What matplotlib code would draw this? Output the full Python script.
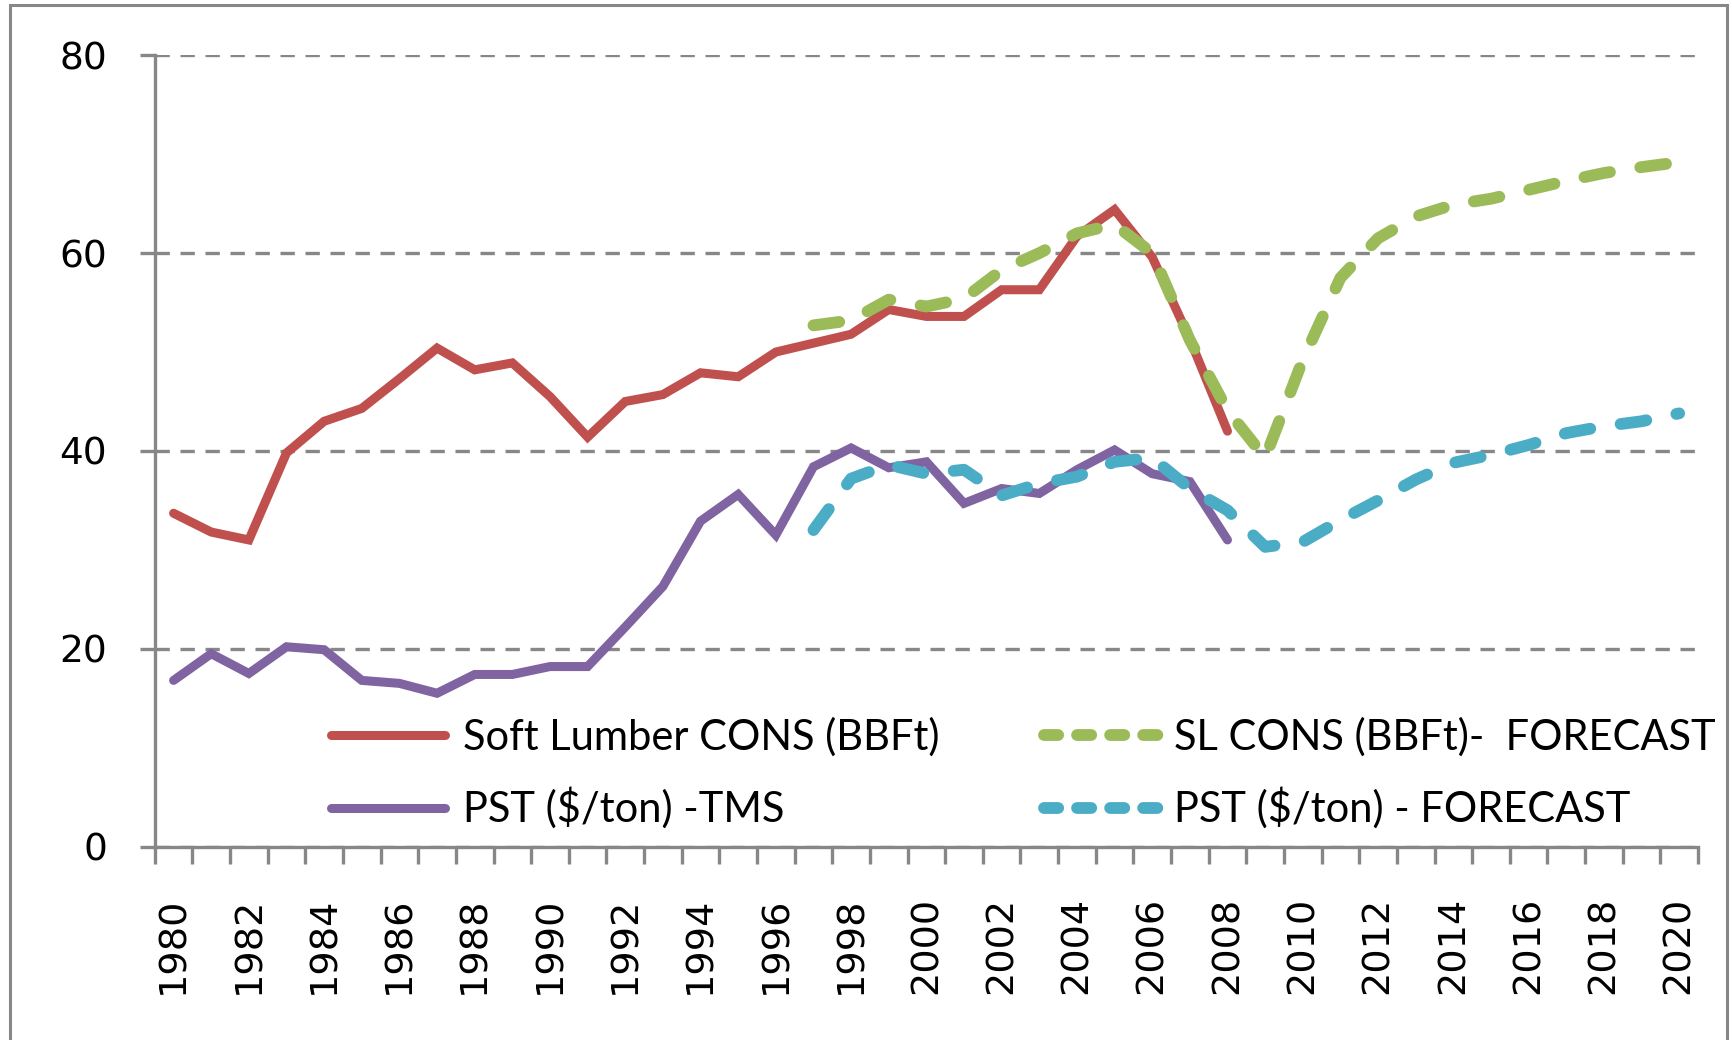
# -*- coding: utf-8 -*-

import numpy as np
import matplotlib
matplotlib.use('Agg')
import matplotlib.pyplot as plt
from matplotlib.lines import Line2D
from matplotlib.patches import Rectangle

# Datos
anios_hist = list(range(1980, 2009))
anios_prev = list(range(1997, 2021))

soft_lumber = [33.7, 31.8, 31.0, 39.8, 43.0, 44.3, 47.3, 50.4, 48.2, 48.9,
               45.5, 41.4, 45.0, 45.7, 47.9, 47.5, 50.0, 50.9, 51.8, 54.3,
               53.6, 53.6, 56.3, 56.3, 61.7, 64.4, 59.6, 51.3, 42.0]
pst_tms = [16.8, 19.5, 17.5, 20.2, 19.9, 16.8, 16.5, 15.5, 17.4, 17.4,
           18.2, 18.2, 22.2, 26.3, 32.9, 35.6, 31.5, 38.4, 40.3, 38.3,
           38.9, 34.7, 36.2, 35.7, 38.1, 40.1, 37.7, 36.9, 31.0]
sl_prevision = [52.7, 53.2, 55.3, 54.6, 55.4, 58.3, 60.0, 62.0, 62.9, 60.0,
                51.2, 44.1, 39.3, 49.2, 57.5, 61.5, 63.7, 64.9, 65.5, 66.4,
                67.3, 68.1, 68.7, 69.2]
pst_prevision = [32.0, 37.2, 38.6, 37.7, 38.1, 35.5, 36.7, 37.4, 38.9, 39.3,
                 36.2, 34.0, 30.3, 30.8, 33.0, 35.0, 37.1, 38.8, 39.6, 40.6,
                 41.8, 42.5, 43.0, 43.8]

etiquetas = ["Soft Lumber CONS (BBFt)", "PST ($/ton) -TMS",
             "SL CONS (BBFt)-  FORECAST", "PST ($/ton) - FORECAST"]
colores = ['#C0504D', '#8064A2', '#9BBB59', '#4BACC6']
gris = '#878787'

anio0 = 1980
anios_todos = list(range(1980, 2021))

ancho_continua = 6.5
ancho_disc = 8.5
patron = (2.2, 2.6)

fig = plt.figure(figsize=(17.33, 10.40), dpi=100)
ax = fig.add_axes([0.0893, 0.186, 0.8905, 0.7608])

xh = np.array(anios_hist) - anio0
xp = np.array(anios_prev) - anio0

# series continuas
ax.plot(xh, soft_lumber, color=colores[0], lw=ancho_continua,
        solid_joinstyle='miter', solid_capstyle='round', zorder=3)
ax.plot(xh, pst_tms, color=colores[1], lw=ancho_continua,
        solid_joinstyle='miter', solid_capstyle='round', zorder=3)
# series de prevision (discontinuas)
ax.plot(xp, sl_prevision, color=colores[2], lw=ancho_disc, dashes=patron,
        dash_capstyle='round', zorder=4)
ax.plot(xp, pst_prevision, color=colores[3], lw=ancho_disc, dashes=patron,
        dash_capstyle='round', zorder=4)

# ejes
ax.set_xlim(-0.5, len(anios_todos) - 0.5)
ax.set_ylim(0, 80)
ax.set_yticks([0, 20, 40, 60, 80])
ax.yaxis.grid(True, color=gris, lw=2.4, dashes=(4.3, 3.2))
ax.set_axisbelow(True)

for s in ['top', 'right']:
    ax.spines[s].set_visible(False)
for s in ['left', 'bottom']:
    ax.spines[s].set_color(gris)
    ax.spines[s].set_linewidth(2.4)

ax.tick_params(axis='y', direction='out', length=10.8, width=2.4, color=gris,
               pad=23.5, labelsize=27)

# marcas entre categorias y etiquetas en los anios pares
ax.set_xticks(np.arange(-0.5, len(anios_todos), 1))
ax.set_xticklabels([])
ax.tick_params(axis='x', which='major', direction='out', length=12,
               width=2.4, color=gris)
pares = [a for a in anios_todos if a % 2 == 0]
ax.set_xticks(np.array(pares) - anio0, minor=True)
ax.set_xticklabels([str(a) for a in pares], minor=True, rotation=90,
                   fontsize=27.5)
ax.tick_params(axis='x', which='minor', length=0, pad=36)

# leyenda en dos columnas
def muestra(i, discontinua):
    if discontinua:
        return Line2D([], [], color=colores[i], lw=ancho_disc,
                      dashes=(1.2, 1.6), dash_capstyle='round')
    return Line2D([], [], color=colores[i], lw=ancho_continua,
                  solid_capstyle='round')

fuente_ley = {'family': 'Lato', 'size': 30}
ley1 = ax.legend([muestra(0, False), muestra(1, False)], etiquetas[:2],
                 loc='upper left', bbox_to_anchor=(0.114, 0.163),
                 frameon=False, prop=fuente_ley, handlelength=2.75,
                 handletextpad=0.42, labelspacing=0.73, borderpad=0,
                 borderaxespad=0)
ax.add_artist(ley1)
ax.legend([muestra(2, True), muestra(3, True)], etiquetas[2:],
          loc='upper left', bbox_to_anchor=(0.5765, 0.163),
          frameon=False, prop=fuente_ley, handlelength=2.8,
          handletextpad=0.3, labelspacing=0.73, borderpad=0,
          borderaxespad=0)

# marco exterior (sin linea inferior visible)
fig.patches.append(Rectangle((10 / 1733, -0.02), 1717 / 1733, 1035 / 1040 + 0.02,
                             transform=fig.transFigure, fill=False,
                             edgecolor=gris, lw=2.2))

fig.savefig('out.png', dpi=100)
